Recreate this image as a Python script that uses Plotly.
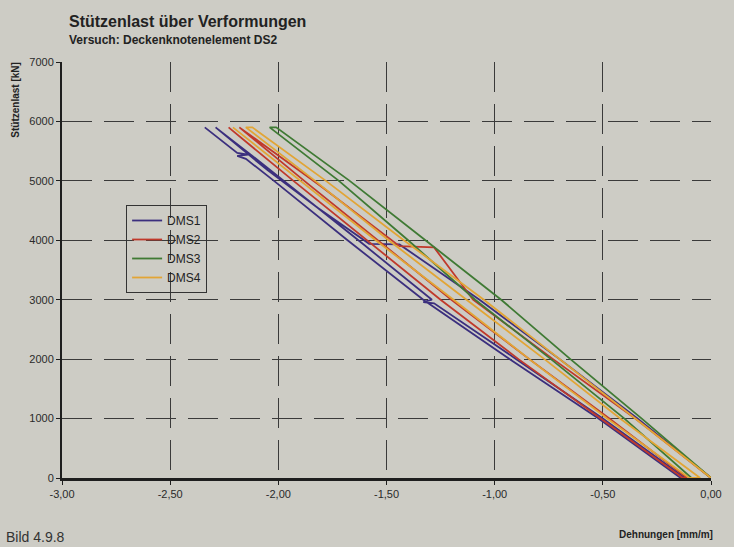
import plotly.graph_objects as go

# ---- data (strain in mm/m, load in kN) ----
dms1_strain = [0.00, -0.34, -0.70, -1.07, -1.44, -1.58, -1.82, -2.05, -2.29,
               -2.12, -1.63, -1.29, -1.33, -1.28, -0.90, -0.50, -0.12,
               -0.14, -0.52, -0.93, -1.33, -1.68, -2.02, -2.15, -2.19, -2.14, -2.19, -2.34]
dms1_load = [0, 1000, 2000, 3000, 3930, 3940, 4550, 5180, 5900,
             5420, 4000, 3000, 2960, 2940, 2000, 1000, 0,
             0, 1000, 2000, 3000, 4000, 5000, 5370, 5420, 5440, 5470, 5900]

dms2_strain = [0.00, -0.35, -0.73, -1.10, -1.28, -1.44, -1.80, -2.18,
               -1.88, -1.54, -1.20, -0.84, -0.47, -0.11,
               -0.13, -0.51, -0.89, -1.25, -1.59, -1.93, -2.23]
dms2_load = [0, 1000, 2000, 3000, 3880, 3900, 4900, 5900,
             5000, 4000, 3000, 2000, 1000, 0,
             0, 1000, 2000, 3000, 4000, 5000, 5900]

dms3_strain = [0.00, -0.32, -0.65, -0.97, -1.32, -1.67, -2.01,
               -2.04, -1.72, -1.40, -1.09, -0.74, -0.40, -0.09]
dms3_load = [0, 1000, 2000, 3000, 4000, 5000, 5900,
             5900, 5000, 4000, 3000, 2000, 1000, 0]

dms4_strain = [0.00, -0.35, -0.70, -1.05, -1.42, -1.78, -2.12,
               -2.15, -1.83, -1.49, -1.13, -0.77, -0.42, -0.05,
               -0.10, -0.48, -0.84, -1.19, -1.55, -1.90, -2.21]
dms4_load = [0, 1000, 2000, 3000, 4000, 5000, 5900,
             5900, 5000, 4000, 3000, 2000, 1000, 0,
             0, 1000, 2000, 3000, 4000, 5000, 5900]

series_names = ["DMS1", "DMS2", "DMS3", "DMS4"]
series_colors = ["#3b2f7e", "#c0392b", "#3f7a34", "#e2a535"]
x_ticks = [-3.0, -2.5, -2.0, -1.5, -1.0, -0.5, 0.0]
x_tick_text = ["-3,00", "-2,50", "-2,00", "-1,50", "-1,00", "-0,50", "0,00"]
y_ticks = [0, 1000, 2000, 3000, 4000, 5000, 6000, 7000]

xs = [dms1_strain, dms2_strain, dms3_strain, dms4_strain]
ys = [dms1_load, dms2_load, dms3_load, dms4_load]

BG = "#cdccc5"
FONT = "Liberation Sans, Arial, sans-serif"

fig = go.Figure()
for name, col, x, y in zip(series_names, series_colors, xs, ys):
    fig.add_trace(go.Scatter(x=x, y=y, mode="lines", name=name,
                             line=dict(color=col, width=1.8)))

grid = dict(showgrid=True, gridcolor="#3a3a3a", gridwidth=1, griddash="30px,12px")

fig.update_layout(
    width=734, height=547,
    paper_bgcolor=BG, plot_bgcolor=BG,
    margin=dict(l=62, r=14, t=62, b=69),
    separators=",.",
    font=dict(family=FONT, color="#2a2a2a", size=11),
    showlegend=True,
    legend=dict(x=(127 - 62) / 658, y=(478 - 205) / 416, xanchor="left", yanchor="top",
                bgcolor="rgba(0,0,0,0)", bordercolor="#333333", borderwidth=1,
                font=dict(size=12, color="#222222"), tracegroupgap=0,
                itemwidth=30),
    xaxis=dict(range=[-3.0, 0.0], tickvals=x_ticks, ticktext=x_tick_text,
               showline=True, linecolor="#1e1e1e", linewidth=2.5,
               ticks="outside", ticklen=4, tickcolor="#1e1e1e",
               zeroline=False, **grid),
    yaxis=dict(range=[0, 7000], tickvals=y_ticks, tickformat="d",
               showline=True, linecolor="#1e1e1e", linewidth=2,
               ticks="outside", ticklen=4, tickcolor="#1e1e1e",
               zeroline=False, **grid),
    annotations=[
        dict(text="<b>Stützenlast über Verformungen</b>", xref="paper", yref="paper",
             x=(67 - 62) / 658, y=1 + (62 - 21) / 416, xanchor="left", yanchor="middle",
             showarrow=False, font=dict(size=16, color="#222222")),
        dict(text="<b>Versuch: Deckenknotenelement DS2</b>", xref="paper", yref="paper",
             x=(67 - 62) / 658, y=1 + (62 - 40) / 416, xanchor="left", yanchor="middle",
             showarrow=False, font=dict(size=12, color="#222222")),
        dict(text="<b>Stützenlast [kN]</b>", xref="paper", yref="paper",
             x=(14 - 62) / 658, y=1 - (100 - 62) / 416, xanchor="center", yanchor="middle",
             textangle=-90, showarrow=False, font=dict(size=10, color="#222222")),
        dict(text="<b>Dehnungen [mm/m]</b>", xref="paper", yref="paper",
             x=(724 - 62) / 658, y=-(534 - 478) / 416, xanchor="right", yanchor="middle",
             showarrow=False, font=dict(size=10, color="#222222")),
        dict(text="Bild 4.9.8", xref="paper", yref="paper",
             x=(3 - 62) / 658, y=-(527 - 478) / 416, xanchor="left", yanchor="top",
             showarrow=False, font=dict(size=14, color="#333333")),
    ],
)

fig.write_html("out.html", config={"displayModeBar": False},
               post_script="document.body.style.margin='0';document.body.style.overflow='hidden';")
